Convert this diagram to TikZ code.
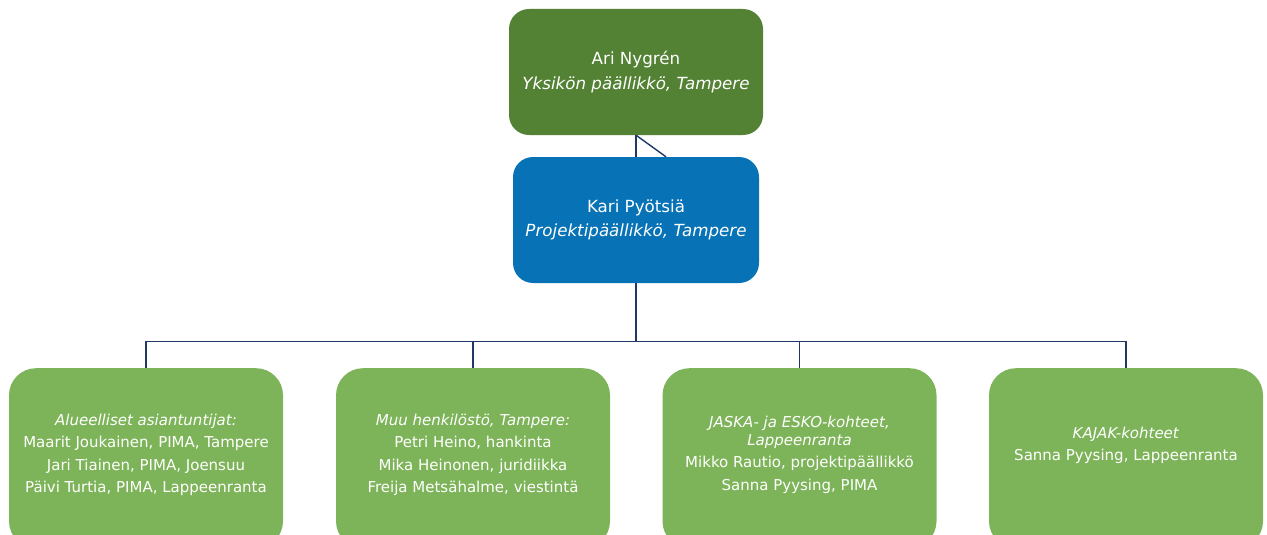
\documentclass[tikz,border=0pt]{standalone}
\usepackage{fontspec}
\setmainfont{DejaVu Sans}
\usetikzlibrary{calc}
\definecolor{chiefgreen}{HTML}{548235}
\definecolor{leadblue}{HTML}{0773B6}
\definecolor{subgreen}{HTML}{7EB459}
\definecolor{linenavy}{HTML}{1F3864}
\begin{document}
\begin{tikzpicture}[x=1pt,y=-1pt,
  chiefbox/.style={rectangle, rounded corners=20pt, fill=chiefgreen, inner sep=0pt,
    minimum width=254pt, minimum height=126pt, text=white, align=center,
    font=\fontsize{16.7}{24.5}\selectfont},
  leadbox/.style={rectangle, rounded corners=20pt, fill=leadblue, inner sep=0pt,
    minimum width=246pt, minimum height=126pt, text=white, align=center,
    font=\fontsize{16.7}{24.5}\selectfont},
  subbox/.style={rectangle, rounded corners=27pt, fill=subgreen, inner sep=0pt,
    minimum width=274pt, minimum height=180pt, anchor=north},
  subtext/.style={text=white, align=center, inner sep=0pt, anchor=north,
    font=\fontsize{15}{22.3}\selectfont},
  conn/.style={draw=linenavy, line width=1.4pt}
]
\useasboundingbox (0,0) rectangle (1267,535);
\clip (0,0) rectangle (1267,535);

\node[chiefbox] (chief) at (636,72) {Ari Nygrén\\\textit{Yksikön päällikkö, Tampere}};
\node[leadbox] (lead) at (636,220) {Kari Pyötsiä\\\textit{Projektipäällikkö, Tampere}};

\node[subbox] (b1) at (146,368) {};
\node[subbox] (b2) at (473,368) {};
\node[subbox] (b3) at (799.5,368) {};
\node[subbox] (b4) at (1126,368) {};

\node[subtext] (t1) at ($(b1.north)+(0,46)$) {\textit{Alueelliset asiantuntijat:}\\Maarit Joukainen, PIMA, Tampere\\Jari Tiainen, PIMA, Joensuu\\Päivi Turtia, PIMA, Lappeenranta};
\node[subtext] (t2) at ($(b2.north)+(0,46)$) {\textit{Muu henkilöstö, Tampere:}\\Petri Heino, hankinta\\Mika Heinonen, juridiikka\\Freija Metsähalme, viestintä};
\node[subtext] (t3) at ($(b3.north)+(0,48)$) {\textit{JASKA- ja ESKO-kohteet,}\\[-4.3pt]\textit{Lappeenranta}\\Mikko Rautio, projektipäällikkö\\Sanna Pyysing, PIMA};
\node[subtext] (t4) at ($(b4.north)+(0,59)$) {\textit{KAJAK-kohteet}\\Sanna Pyysing, Lappeenranta};

\coordinate (bus) at (636,341.5);
\draw[conn, line width=2pt] (chief.south) -- (lead.north);
\draw[conn] (chief.south) -- ($(lead.north)+(30,0)$);
\draw[conn, line width=2pt] (lead.south) -- (bus);
\draw[conn] (b1.north) |- (bus) -| (b4.north);
\draw[conn] (b2.north) -- (b2.north |- bus);
\draw[conn] (b3.north) -- (b3.north |- bus);
\end{tikzpicture}
\end{document}
